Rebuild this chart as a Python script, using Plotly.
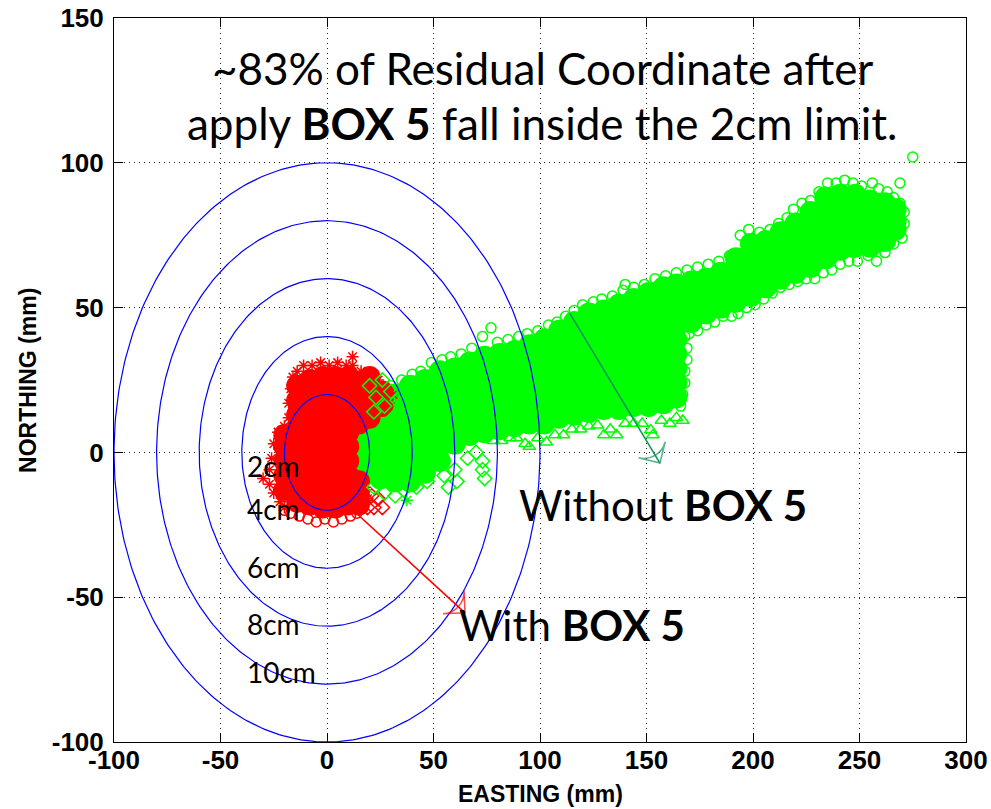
import numpy as np
import plotly.graph_objects as go

# ---------------- data (mm) ----------------
x_ticks = [-100, -50, 0, 50, 100, 150, 200, 250, 300]
y_ticks = [-100, -50, 0, 50, 100, 150]

ring_radii = [20, 40, 60, 80, 100]
ring_labels = ["2cm", "4cm", "6cm", "8cm", "10cm"]
ring_label_y = [-4.7, -19.6, -39.6, -59.3, -75.8]

# Without BOX 5 - dense core of the residual cloud
green_core = [
    (18, -7), (18, -2), (18, 3), (18, 8), (18, 13),
    (25, -9), (25, -4), (25, 1), (25, 6), (25, 11), (25, 17),
    (32, -10), (32, -5), (32, 0), (32, 5), (32, 10), (32, 15), (32, 20),
    (39, -10), (39, -5), (39, 0), (39, 5), (39, 10), (39, 15), (39, 19), (39, 23),
    (46, -7), (46, -2), (46, 3), (46, 8), (46, 13), (46, 18), (46, 22), (46, 25),
    (53, -3), (53, 2), (53, 7), (53, 12), (53, 17), (53, 22), (53, 28),
    (60, 3), (60, 8), (60, 13), (60, 18), (60, 23), (60, 29),
    (67, 6), (67, 11), (67, 16), (67, 21), (67, 26), (67, 31),
    (74, 7), (74, 12), (74, 17), (74, 22), (74, 27), (74, 33),
    (81, 8), (81, 13), (81, 18), (81, 23), (81, 28), (81, 34),
    (88, 9), (88, 14), (88, 19), (88, 24), (88, 30), (88, 35),
    (95, 10), (95, 15), (95, 20), (95, 25), (95, 31), (95, 37),
    (102, 10), (102, 15), (102, 20), (102, 25), (102, 30), (102, 35), (102, 39),
    (109, 12), (109, 17), (109, 22), (109, 27), (109, 32), (109, 37), (109, 42),
    (116, 13), (116, 18), (116, 23), (116, 28), (116, 34), (116, 40), (116, 45),
    (123, 14), (123, 19), (123, 24), (123, 29), (123, 34), (123, 39), (123, 44), (123, 48),
    (130, 15), (130, 20), (130, 25), (130, 30), (130, 35), (130, 40), (130, 45), (130, 49),
    (137, 15), (137, 20), (137, 25), (137, 30), (137, 36), (137, 41), (137, 46), (137, 51),
    (144, 16), (144, 21), (144, 26), (144, 31), (144, 37), (144, 43), (144, 48), (144, 53),
    (151, 16), (151, 21), (151, 26), (151, 31), (151, 36), (151, 41), (151, 46), (151, 51), (151, 55),
    (158, 17), (158, 22), (158, 27), (158, 32), (158, 37), (158, 42), (158, 47), (158, 52), (158, 57),
    (164, 19), (164, 24), (164, 29), (164, 34), (164, 39), (164, 44), (164, 49), (164, 54), (164, 58),
    (171, 45), (171, 50), (171, 55), (171, 59),
    (178, 48), (178, 54), (178, 60),
    (185, 50), (185, 56), (185, 62),
    (192, 52), (192, 57), (192, 62), (192, 67),
    (199, 54), (199, 60), (199, 66), (199, 72),
    (206, 57), (206, 63), (206, 68), (206, 73),
    (213, 60), (213, 66), (213, 71), (213, 76),
    (220, 62), (220, 68), (220, 74), (220, 79),
    (227, 64), (227, 69), (227, 74), (227, 79), (227, 83),
    (234, 67), (234, 72), (234, 77), (234, 83), (234, 88),
    (241, 70), (241, 75), (241, 80), (241, 85), (241, 89),
    (248, 71), (248, 76), (248, 81), (248, 85), (248, 89),
    (255, 71), (255, 76), (255, 81), (255, 87),
    (262, 73), (262, 78), (262, 82), (262, 86),
    (267, 77), (267, 80), (267, 84),
]

# Without BOX 5 - scattered circle markers on the edge of the cloud
green_circles = [
    (16, 15), (21, 20), (26, 22), (30, 23), (35, 25), (40, 27), (44, 28), (49, 31),
    (54, 32), (58, 33), (63, 34), (68, 36), (73, 40), (77, 43), (80, 38), (85, 39),
    (90, 40), (94, 41), (99, 42), (104, 44), (108, 45), (112, 47), (116, 49), (120, 51),
    (125, 52), (129, 53), (134, 54), (139, 56), (140, 58), (144, 57), (149, 58), (154, 60),
    (159, 61), (164, 62), (169, 63), (174, 64), (179, 65), (184, 66), (189, 68), (194, 75),
    (198, 77), (203, 76), (208, 77), (212, 79), (216, 81), (219, 84), (223, 86), (227, 87),
    (231, 90), (235, 93), (239, 93), (243, 94), (247, 93), (251, 92), (256, 93), (259, 91),
    (263, 90), (266, 88), (269, 86), (271, 83), (275, 102), (269, 93), (271, 79), (270, 74),
    (266, 72), (262, 69), (258, 66), (254, 68), (249, 66), (245, 66), (241, 65), (237, 63),
    (233, 62), (229, 60), (225, 60), (221, 59), (217, 58), (213, 57), (209, 55), (205, 53),
    (201, 51), (197, 50), (193, 48), (190, 47), (186, 47), (182, 45), (178, 44), (174, 42),
    (170, 41), (168, 40), (169, 36), (169, 32), (168, 28), (168, 24), (167, 20), (166, 16),
]

green_triangles = [
    (78, 4), (82, 4), (86, 5), (89, 5), (93, 3), (95, 2), (99, 5), (103, 3.5),
    (107, 6), (111, 6), (115, 8), (119, 8), (123, 9), (127, 9.4), (130, 6), (133, 8),
    (136, 6), (140, 10), (144, 10), (148, 10), (152, 7.7), (153, 6), (157, 11), (161, 10),
    (164, 12), (167, 11),
]

green_diamonds = [
    (22, -12), (27, -14), (32, -15), (36, -13), (42, -12), (47, -10), (53, -4), (55, -8),
    (57, -12), (60, -6), (61, -10), (66, -2), (70, 0), (73, -3), (73, -6), (74, -9),
    (20, 23), (23, 19), (27, 16), (30, 21), (26, 25), (33, 18), (31, 12), (22, 14),
]

green_stars = [(37.5, -16.5)]

# With BOX 5 - dense core
red_core = [
    (-20, -13), (-20, -8), (-20, -3), (-20, 2), (-20, 6),
    (-14, -17), (-14, -12), (-14, -7), (-14, -2), (-14, 3), (-14, 8), (-14, 13), (-14, 18), (-14, 23),
    (-8, -18), (-8, -13), (-8, -8), (-8, -3), (-8, 2), (-8, 7), (-8, 12), (-8, 17), (-8, 21), (-8, 25),
    (-2, -19), (-2, -14), (-2, -9), (-2, -4), (-2, 1), (-2, 6), (-2, 11), (-2, 16), (-2, 21), (-2, 26),
    (4, -19), (4, -14), (4, -9), (4, -4), (4, 1), (4, 6), (4, 11), (4, 16), (4, 21), (4, 26),
    (10, -18), (10, -13), (10, -8), (10, -3), (10, 2), (10, 7), (10, 12), (10, 17), (10, 22), (10, 26),
    (15, -18), (15, -14), (15, -10), (15, 10), (15, 15), (15, 20), (15, 24),
    (20, 12), (20, 17), (20, 22), (20, 26),
    (26, 16), (26, 21),
]

red_stars = [
    (-14, 28), (-11, 30), (-7, 30), (-3, 31), (1, 30), (5, 31), (9, 30), (12, 33),
    (12, 30), (16, 28), (22, 27), (24, 25), (27, 22), (31, 20), (29, 17),
    (-16, 26), (-17, 22), (-18, 17), (-18, 12), (-20, 9), (-23, 7), (-25, 3), (-26, -2),
    (-27, -6), (-30, -9), (-27, -11), (-25, -14), (-22, -17), (-20, -19),
    (18, -12), (19, -16), (17, -19),
]

red_circles = [
    (-20, -20), (-17, -21), (-13, -22), (-9, -23), (-5, -24), (-1, -23), (3, -24),
    (7, -23), (11, -22), (14, -21),
]

red_diamonds = [(18, -16), (21, -15), (24, -16), (26, -19), (22, -19), (19, -19)]

arrow_with = [(12, -19.8), (64.8, -55.4)]
arrow_without = [(114, 48), (156.3, -3.7)]

GREEN = "#00ff00"
RED = "#ff0000"
BLUE = "#0000ff"
TEAL = "#12935e"


def xs(pts):
    return [p[0] for p in pts]


def ys(pts):
    return [p[1] for p in pts]


fig = go.Figure()

# green cloud
fig.add_trace(go.Scatter(x=xs(green_core), y=ys(green_core), mode="markers",
                         marker=dict(symbol="circle", size=22, color=GREEN, line=dict(width=0)),
                         hoverinfo="skip"))
fig.add_trace(go.Scatter(x=xs(green_circles), y=ys(green_circles), mode="markers",
                         marker=dict(symbol="circle-open", size=10, color=GREEN, line=dict(width=1.5)),
                         hoverinfo="skip"))
fig.add_trace(go.Scatter(x=xs(green_triangles), y=ys(green_triangles), mode="markers",
                         marker=dict(symbol="triangle-up-open", size=11, color=GREEN, line=dict(width=1.5)),
                         hoverinfo="skip"))

# red cloud
fig.add_trace(go.Scatter(x=xs(red_core), y=ys(red_core), mode="markers",
                         marker=dict(symbol="circle", size=22, color=RED, line=dict(width=0)),
                         hoverinfo="skip"))
fig.add_trace(go.Scatter(x=xs(red_stars), y=ys(red_stars), mode="markers",
                         marker=dict(symbol="asterisk-open", size=10, color=RED, line=dict(width=1.5, color=RED)),
                         hoverinfo="skip"))
fig.add_trace(go.Scatter(x=xs(red_circles), y=ys(red_circles), mode="markers",
                         marker=dict(symbol="circle-open", size=10, color=RED, line=dict(width=1.5)),
                         hoverinfo="skip"))
fig.add_trace(go.Scatter(x=xs(red_diamonds), y=ys(red_diamonds), mode="markers",
                         marker=dict(symbol="diamond-open", size=11, color=RED, line=dict(width=1.5)),
                         hoverinfo="skip"))
fig.add_trace(go.Scatter(x=xs(green_diamonds), y=ys(green_diamonds), mode="markers",
                         marker=dict(symbol="diamond-open", size=11, color=GREEN, line=dict(width=1.5)),
                         hoverinfo="skip"))
fig.add_trace(go.Scatter(x=xs(green_stars), y=ys(green_stars), mode="markers",
                         marker=dict(symbol="asterisk-open", size=10, color=GREEN, line=dict(width=1.5, color=GREEN)),
                         hoverinfo="skip"))

# limit circles
theta = np.linspace(0, 2 * np.pi, 361)
for r in ring_radii:
    fig.add_trace(go.Scatter(x=r * np.cos(theta), y=r * np.sin(theta), mode="lines",
                             line=dict(color=BLUE, width=1.2), hoverinfo="skip"))

# arrows
for pts, col in [(arrow_with, RED), (arrow_without, TEAL)]:
    fig.add_trace(go.Scatter(x=xs(pts), y=ys(pts), mode="lines+markers",
                             line=dict(color=col, width=1.6),
                             marker=dict(symbol=["circle", "arrow-wide-open"], size=[0, 22],
                                         angleref="previous", color=col,
                                         line=dict(width=1.6, color=col)),
                             hoverinfo="skip"))

annotations = []
for lab, yy in zip(ring_labels, ring_label_y):
    annotations.append(dict(x=-38.5, y=yy, xref="x", yref="y", text=lab, showarrow=False,
                            xanchor="left", yanchor="middle",
                            font=dict(family="Lato", size=28, color="black")))

annotations += [
    dict(x=101, y=132.6, xref="x", yref="y", text="~83% of Residual Coordinate after",
         showarrow=False, xanchor="center", yanchor="middle",
         font=dict(family="Lato", size=44, color="black")),
    dict(x=101, y=113.8, xref="x", yref="y", text="apply <b>BOX 5</b> fall inside the 2cm limit.",
         showarrow=False, xanchor="center", yanchor="middle",
         font=dict(family="Lato", size=44, color="black")),
    dict(x=89, y=-18.0, xref="x", yref="y", text="Without <b>BOX 5</b>",
         showarrow=False, xanchor="left", yanchor="middle",
         font=dict(family="Lato", size=42, color="black")),
    dict(x=61, y=-59.5, xref="x", yref="y", text="With <b>BOX 5</b>",
         showarrow=False, xanchor="left", yanchor="middle",
         font=dict(family="Lato", size=42, color="black")),
    dict(x=0.5, y=-0.0715, xref="paper", yref="paper", text="EASTING (mm)",
         showarrow=False, xanchor="center", yanchor="middle",
         font=dict(family="Liberation Sans", size=23, color="black", weight="bold")),
    dict(x=-0.101, y=0.5, xref="paper", yref="paper", text="NORTHING (mm)", textangle=-90,
         showarrow=False, xanchor="center", yanchor="middle",
         font=dict(family="Liberation Sans", size=23, color="black", weight="bold")),
]

axis_common = dict(
    showline=True, linecolor="black", linewidth=1, mirror="ticks",
    ticks="inside", ticklen=9, tickcolor="black", tickwidth=1,
    showgrid=True, gridcolor="#222222", gridwidth=1, griddash="1px,4px",
    zeroline=False, automargin=False,
    tickfont=dict(family="Liberation Sans", size=26, color="black", weight="bold"),
)

fig.update_layout(
    width=991, height=809,
    margin=dict(l=114, r=25, t=18, b=67, autoexpand=False),
    paper_bgcolor="white", plot_bgcolor="white",
    showlegend=False,
    annotations=annotations,
    xaxis=dict(range=[-100, 300], tickvals=x_ticks, ticktext=[str(v) for v in x_ticks],
               ticklabelstandoff=-5, **axis_common),
    yaxis=dict(range=[-100, 150], tickvals=y_ticks, ticktext=[str(v) for v in y_ticks],
               ticklabelstandoff=4, **axis_common),
)

fig.write_html("out.html")
